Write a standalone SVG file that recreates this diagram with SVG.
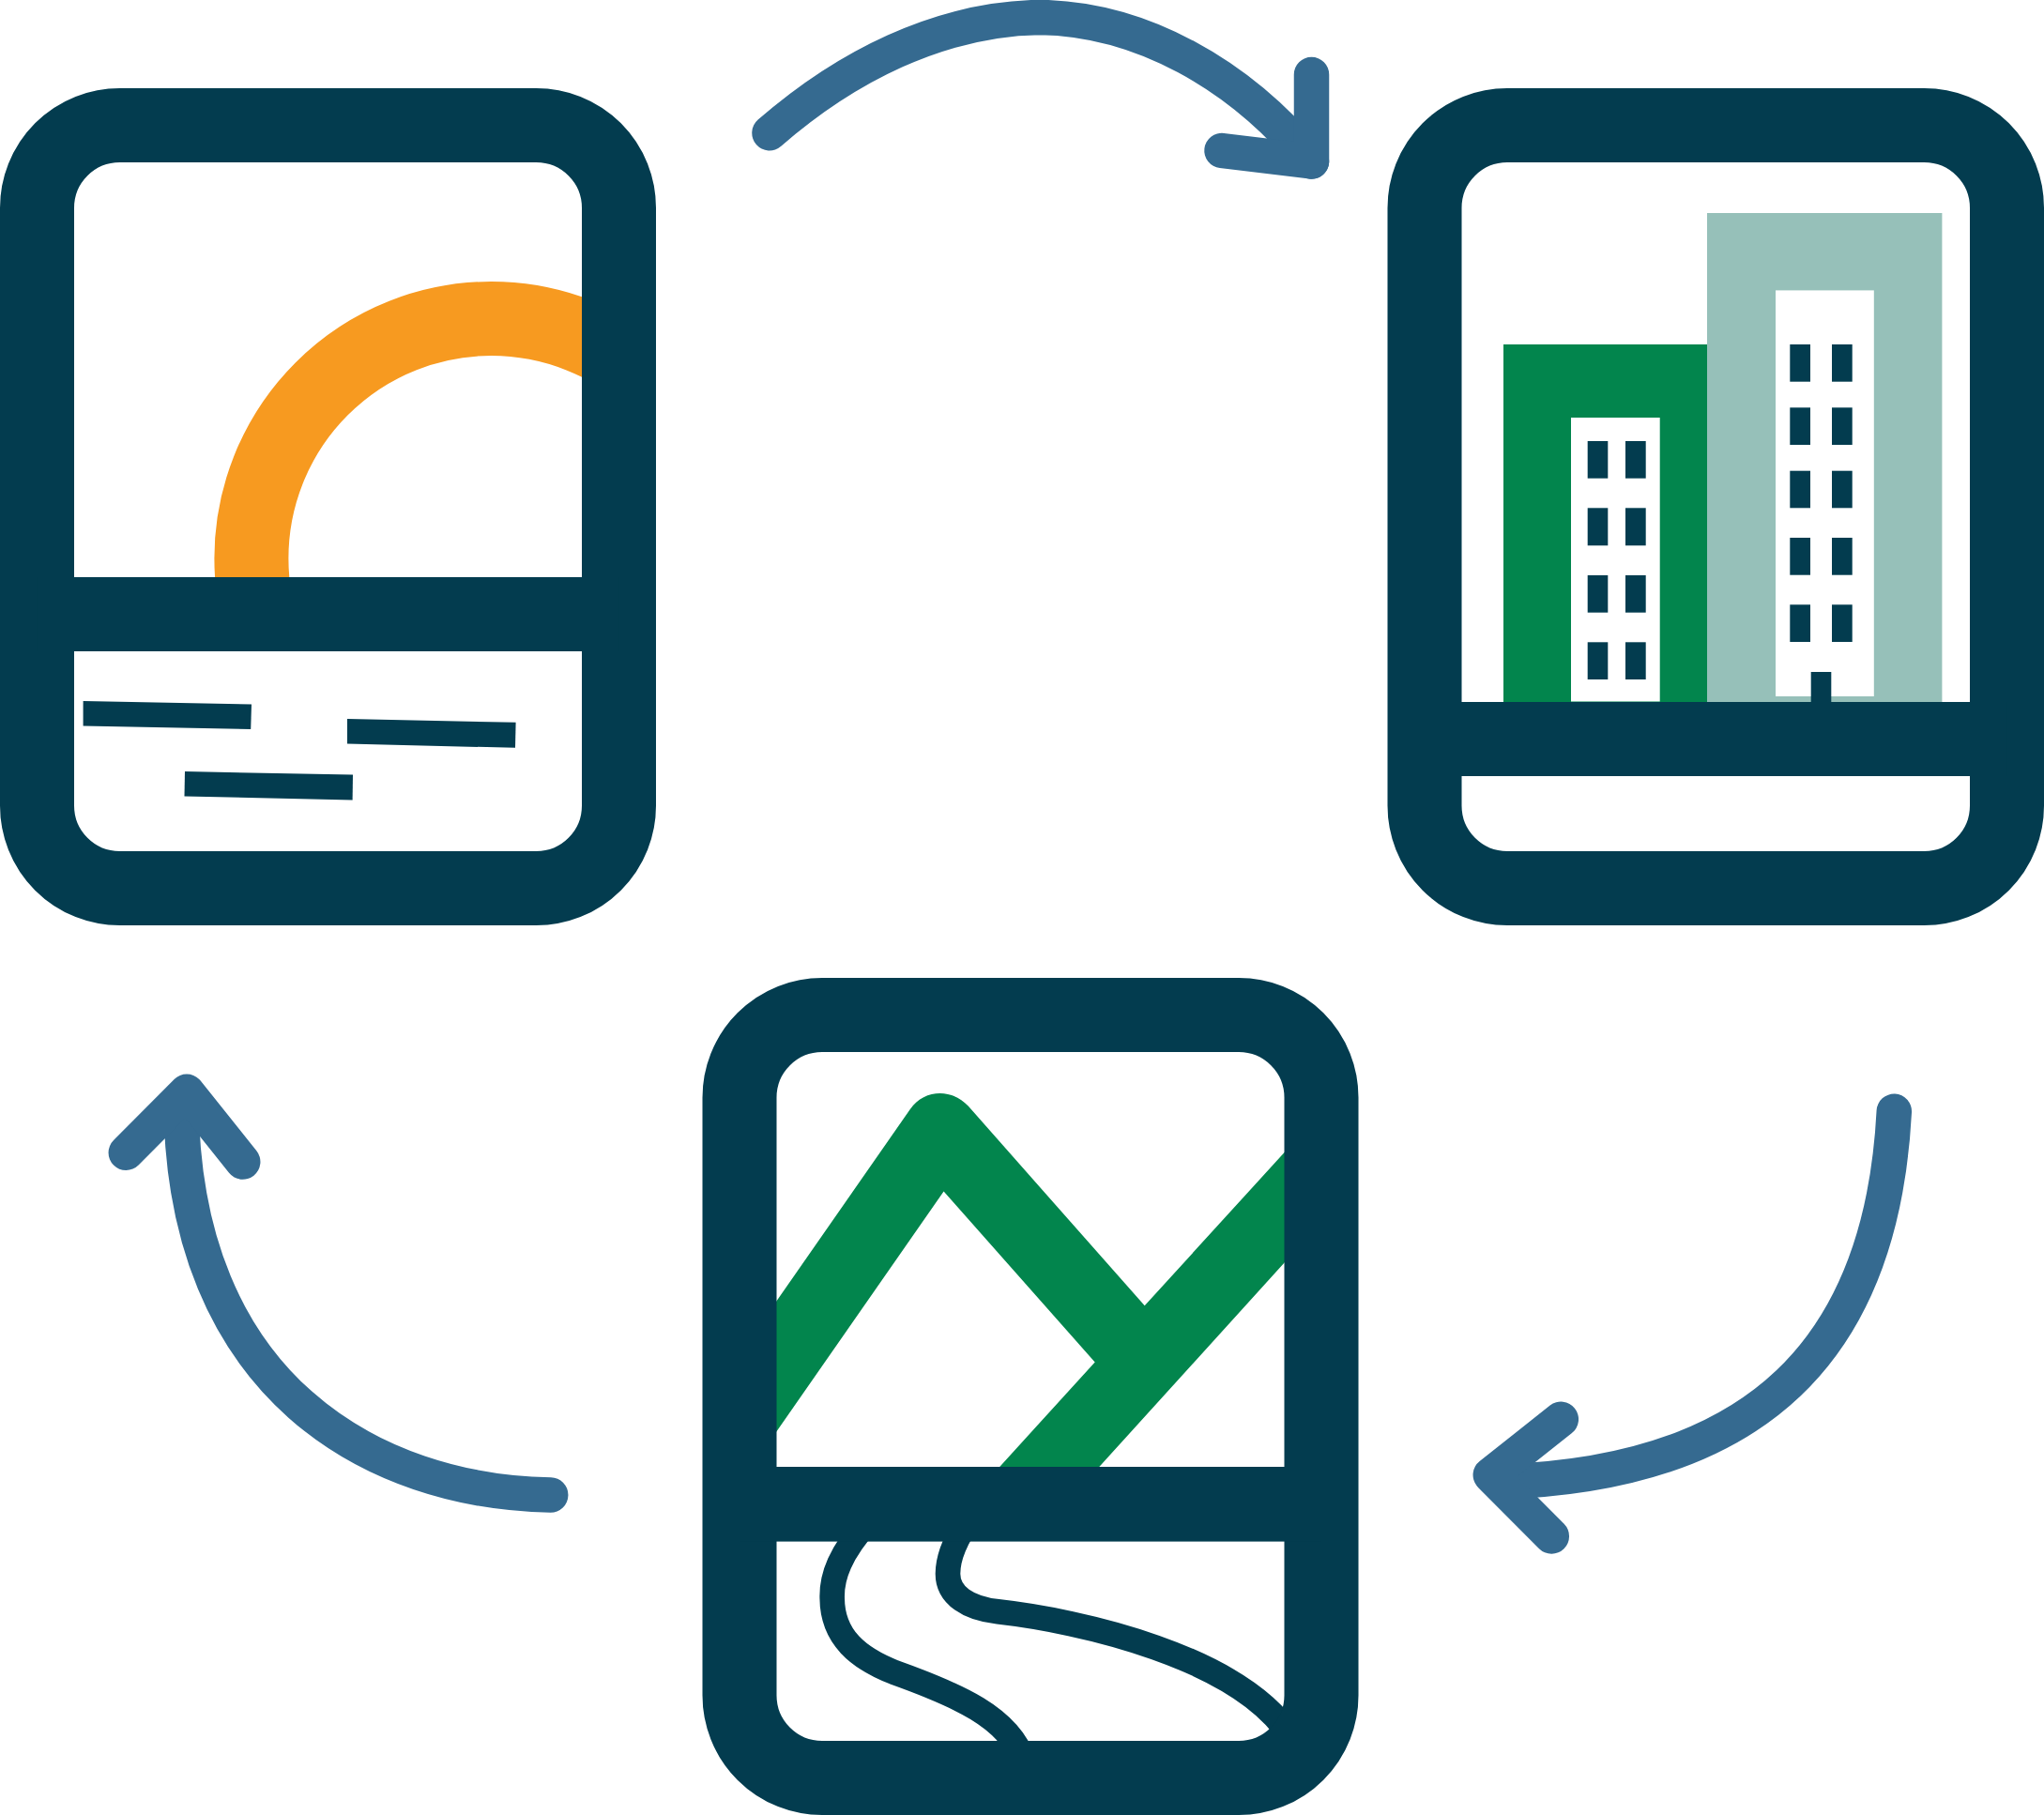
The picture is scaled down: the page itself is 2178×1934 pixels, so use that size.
<svg xmlns="http://www.w3.org/2000/svg" width="2178" height="1934" viewBox="0 0 2178 1934">
<style>
.frame{fill:none;stroke:#033c4f;stroke-width:79}
.dark{fill:#033c4f}
.white{fill:#fff}
.arrow{fill:none;stroke:#356a90;stroke-width:37.5;stroke-linecap:round;stroke-linejoin:round}
.river{fill:none;stroke:#033c4f;stroke-width:26.6}
</style>
<defs>
<clipPath id="sunClip"><rect x="79" y="174" width="541" height="441"/></clipPath>
</defs>
<rect width="2178" height="1934" fill="#fff"/>
<g id="node-sun">
<circle cx="523.4" cy="595" r="255.5" fill="none" stroke="#f79a20" stroke-width="79" clip-path="url(#sunClip)"/>
<polygon class="dark" points="88.6,747 268,750.6 267.2,777 88.6,773.4"/>
<polygon class="dark" points="370,766 549.6,769.8 549,796.8 370,792.6"/>
<polygon class="dark" points="197,822 376,825.6 375.6,852.6 196.5,848.4"/>
<rect class="frame" x="39.5" y="133.5" width="620" height="813" rx="88"/>
<rect class="dark" x="39.5" y="615" width="620" height="79"/>
</g>
<g id="node-city">
<rect x="1602" y="367" width="217" height="381" fill="#02854d"/>
<rect x="1819" y="227" width="250.4" height="521" fill="#96c0b9"/>
<rect class="white" x="1674" y="445" width="94.7" height="302.5"/>
<rect class="white" x="1892" y="309.4" width="104.8" height="432.6"/>
<g class="dark">
<rect x="1691.7" y="470" width="21.6" height="39.7"/><rect x="1732" y="470" width="21.7" height="39.7"/>
<rect x="1691.7" y="541.3" width="21.6" height="40"/><rect x="1732" y="541.3" width="21.7" height="40"/>
<rect x="1691.7" y="613" width="21.6" height="39.7"/><rect x="1732" y="613" width="21.7" height="39.7"/>
<rect x="1691.7" y="684.3" width="21.6" height="39.7"/><rect x="1732" y="684.3" width="21.7" height="39.7"/>
<rect x="1907.3" y="367" width="21.7" height="39.7"/><rect x="1952" y="367" width="21.7" height="39.7"/>
<rect x="1907.3" y="434.3" width="21.7" height="39.7"/><rect x="1952" y="434.3" width="21.7" height="39.7"/>
<rect x="1907.3" y="501.7" width="21.7" height="39.6"/><rect x="1952" y="501.7" width="21.7" height="39.6"/>
<rect x="1907.3" y="573" width="21.7" height="39.7"/><rect x="1952" y="573" width="21.7" height="39.7"/>
<rect x="1907.3" y="644.3" width="21.7" height="39.7"/><rect x="1952" y="644.3" width="21.7" height="39.7"/>
<rect x="1929.7" y="716" width="21.6" height="34"/>
</g>
<rect class="frame" x="1518" y="133.5" width="620.5" height="813" rx="88"/>
<rect class="dark" x="1518" y="748" width="620.5" height="79"/>
</g>
<g id="node-landscape">
<path fill="#02854d" d="M827 1387L969.8 1182C985 1160 1015 1160 1031.7 1178.6L1219.7 1391.3L1369 1227.5V1345L1171.3 1563H1065.2L1166.7 1451.4L1005.6 1269.5L827 1526Z"/>
<path class="river" d="M926 1620C895 1655 886 1680 886.7 1703C887 1745 915 1767 953 1782C1020 1806 1075 1830 1090 1875"/>
<path class="river" d="M1034 1617C1018 1640 1010 1660 1010 1677C1010 1700 1032 1714 1063.3 1717.3C1150 1727 1320 1765 1375 1850"/>
<rect class="frame" x="788" y="1081.5" width="620" height="813" rx="88"/>
<rect class="dark" x="788" y="1563" width="620" height="79.6"/>
</g>
<g id="connectors">
<path class="arrow" d="M820 141.7C900 72 1000 20 1108 18.5C1215 20 1320 78 1397.5 172"/>
<path class="arrow" d="M1397.5 79.5V172L1302 160.5"/>
<path class="arrow" d="M2018.3 1184.3C2005 1440 1870 1570 1600 1579"/>
<path class="arrow" d="M1663.3 1512.3L1588.3 1571.7L1653.3 1637"/>
<path class="arrow" d="M586.7 1593C400 1590 193 1480 193 1170"/>
<path class="arrow" d="M134.3 1228.3L199 1163.3L258.7 1238"/>
</g>
</svg>
